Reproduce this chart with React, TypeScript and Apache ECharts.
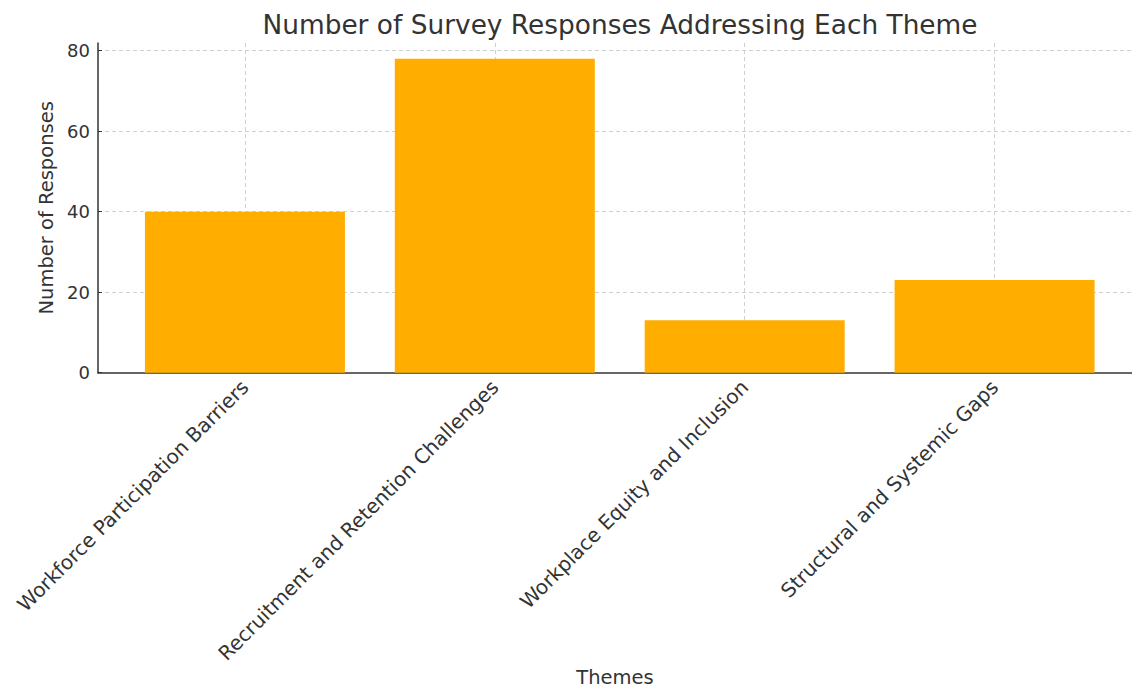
import React, { useEffect, useRef } from "react";
import * as echarts from "echarts";

const themes = [
  "Workforce Participation Barriers",
  "Recruitment and Retention Challenges",
  "Workplace Equity and Inclusion",
  "Structural and Systemic Gaps",
];
const responses = [40, 78, 13, 23];
const yTicks = [0, 20, 40, 60, 80];
const yMax = 81.9;

export default function App() {
  const ref = useRef<HTMLDivElement>(null);
  useEffect(() => {
    const chart = echarts.init(ref.current!, null, { renderer: "svg" });
    const positions = themes.map((_, i) => i);
    const font = "DejaVu Sans";
    const grid = { type: [4, 3], color: "#d0d0d0", width: 1 };
    chart.setOption({
      animation: false,
      backgroundColor: "#ffffff",
      textStyle: { fontFamily: font },
      title: {
        text: "Number of Survey Responses Addressing Each Theme",
        left: 615,
        textAlign: "center",
        top: 6,
        textStyle: { fontSize: 26.4, fontWeight: "normal", color: "#333333", fontFamily: font },
      },
      grid: { left: 98, right: 0, top: 43, bottom: 315 },
      xAxis: {
        type: "value",
        min: -0.588,
        max: 3.55,
        name: "Themes",
        nameLocation: "middle",
        nameGap: 293,
        nameTextStyle: { fontSize: 19.5, color: "#333333", fontFamily: font },
        axisLine: { show: true, onZero: false, lineStyle: { color: "#333333", width: 1.5 } },
        axisTick: { show: true, inside: true, length: 4, customValues: positions, lineStyle: { color: "#333333" } },
        axisLabel: {
          customValues: positions,
          formatter: (v: number) => themes[Math.round(v)] ?? "",
          rotate: 45,
          fontSize: 20,
          color: "#333333",
          margin: 11,
          fontFamily: font,
        },
        splitLine: { show: true, showMinLine: true, showMaxLine: true, lineStyle: grid },
      },
      yAxis: {
        type: "value",
        min: 0,
        max: yMax,
        name: "Number of Responses",
        nameLocation: "middle",
        nameRotate: 90,
        nameGap: 40,
        nameTextStyle: { fontSize: 19.5, color: "#333333", fontFamily: font },
        axisLine: { show: true, onZero: false, lineStyle: { color: "#333333", width: 1.5 } },
        axisTick: { show: true, inside: true, length: 4, customValues: yTicks, lineStyle: { color: "#333333" } },
        axisLabel: { customValues: yTicks, fontSize: 18, color: "#333333", margin: 8, fontFamily: font },
        splitLine: { show: true, showMinLine: false, showMaxLine: true, lineStyle: grid },
      },
      series: [
        {
          type: "bar",
          data: responses.map((v, i) => [i, v]),
          barWidth: 200,
          itemStyle: { color: "#FFAE00" },
          z: 1,
        },
      ],
    });
    return () => chart.dispose();
  }, []);
  return (
    <div
      ref={ref}
      style={{ position: "fixed", left: 0, top: 0, width: 1132, height: 688 }}
    />
  );
}
